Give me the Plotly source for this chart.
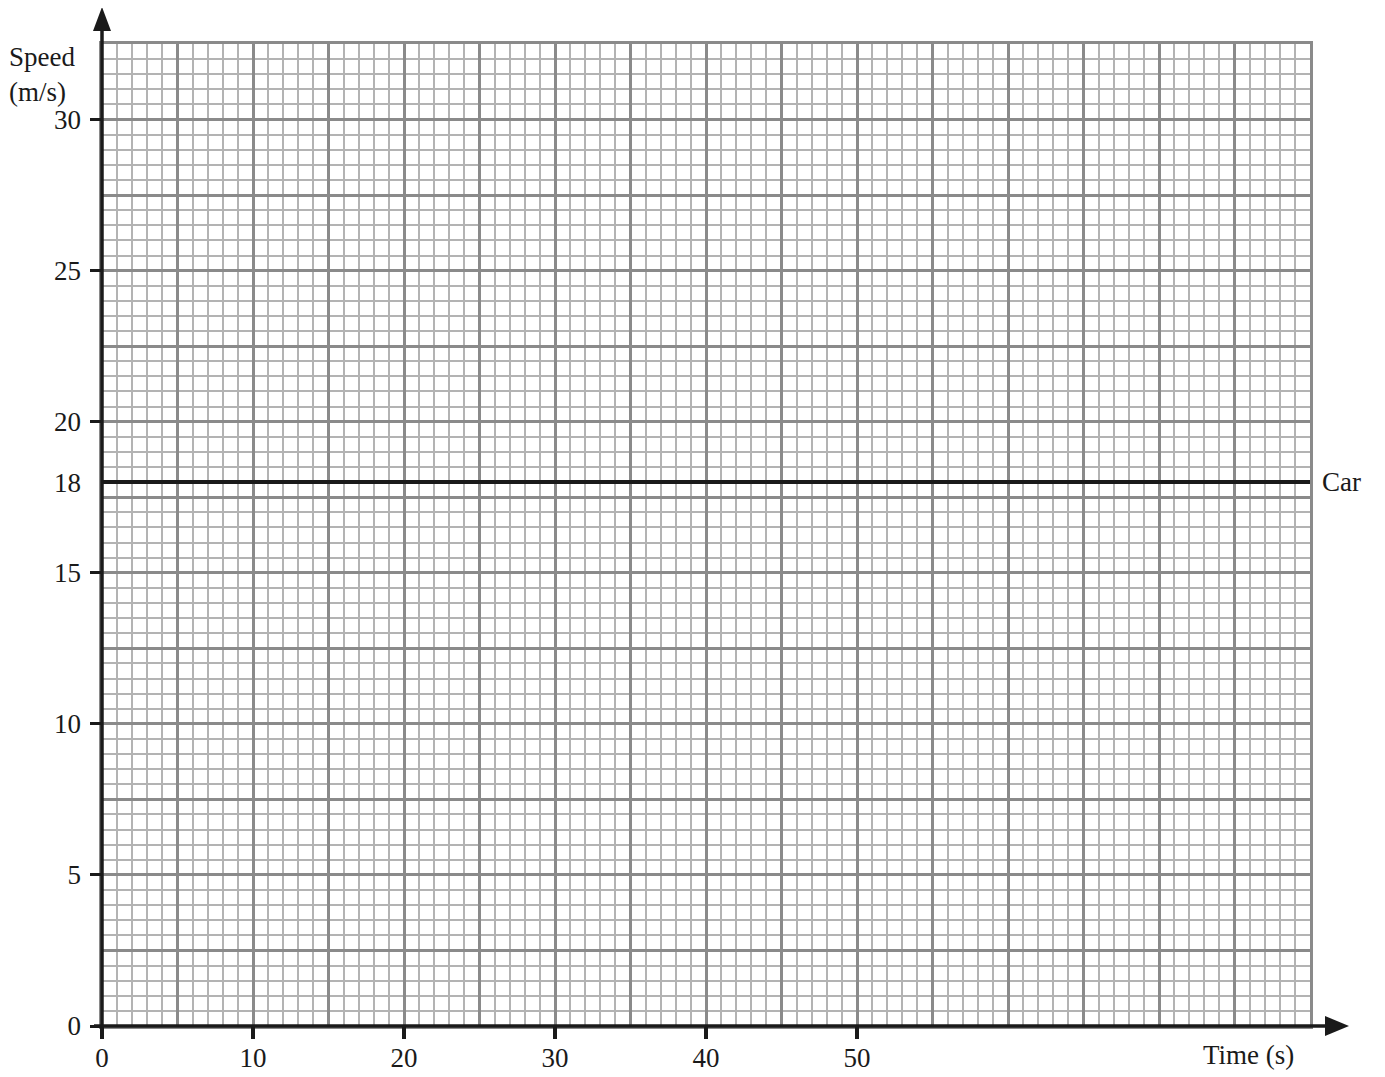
import plotly.graph_objects as go

# ---- data ----
time_range = [0, 80]
speed_range = [0, 32.5]
car_time = [0, 80]
car_speed = [18, 18]
x_tick_vals = [0, 10, 20, 30, 40, 50]
x_tick_text = ["0", "10", "20", "30", "40", "50"]
y_label_vals = [0, 5, 10, 15, 18, 20, 25, 30]
y_label_text = ["0", "5", "10", "15", "18", "20", "25", "30"]
y_tick_marks = [0, 5, 10, 15, 20, 25, 30]

# ---- layout constants (target page pixels) ----
PAGE_W, PAGE_H = 1385, 1077
OFF = 8                      # default body margin of the html page
W, H = PAGE_W - OFF, PAGE_H - OFF
PL, PR, PT, PB = 102, 1310, 44, 1026   # plot area in page pixels
L, T = PL - OFF, PT - OFF
R, B = (OFF + W) - PR, (OFF + H) - PB
PW, PH = PR - PL, PB - PT

def px_x(px):
    return (px - PL) / PW

def px_y(py):
    return (PB - py) / PH

FONT = "Times New Roman, Liberation Serif, serif"
FS = 27
INK = "#1a1a1a"
MINOR = "#b3b3b3"
MAJOR = "#8a8a8a"

fig = go.Figure()

# invisible trace so the grid axes are drawn
fig.add_trace(go.Scatter(x=time_range, y=speed_range, xaxis="x2", yaxis="y2",
                         mode="markers", marker=dict(opacity=0), hoverinfo="skip",
                         showlegend=False))

fig.add_trace(go.Scatter(x=car_time, y=car_speed, mode="lines",
                         line=dict(color=INK, width=4), showlegend=False))

fig.update_layout(
    template="none",
    width=W, height=H, autosize=False,
    margin=dict(l=L, r=R, t=T, b=B, pad=0),
    paper_bgcolor="white", plot_bgcolor="white",
    font=dict(family=FONT, size=FS, color=INK),
    xaxis=dict(range=time_range, tickvals=x_tick_vals, ticktext=x_tick_text,
               ticks="", showgrid=False, zeroline=False, showline=False, automargin=False,
               ticklabelstandoff=13,
               minor=dict(tickvals=x_tick_vals, ticks="outside", ticklen=12,
                          tickwidth=4, tickcolor=INK, showgrid=False),
               tickfont=dict(family=FONT, size=FS, color=INK)),
    yaxis=dict(range=speed_range, tickvals=y_label_vals, ticktext=y_label_text,
               ticks="", showgrid=False, zeroline=False, showline=False, automargin=False,
               ticklabelstandoff=20,
               minor=dict(tickvals=y_tick_marks, ticks="outside", ticklen=11,
                          tickwidth=3, tickcolor=INK, showgrid=False),
               tickfont=dict(family=FONT, size=FS, color=INK)),
    xaxis2=dict(range=time_range, overlaying="x", side="top", showticklabels=False,
                ticks="", tick0=0, dtick=5, showgrid=True, gridcolor=MAJOR, gridwidth=2.5,
                zeroline=False, showline=True, mirror=True, linecolor=MAJOR, linewidth=2.5,
                automargin=False,
                minor=dict(tick0=0, dtick=1, showgrid=True, gridcolor=MINOR, gridwidth=1.5)),
    yaxis2=dict(range=speed_range, overlaying="y", side="right", showticklabels=False,
                ticks="", tick0=0, dtick=2.5, showgrid=True, gridcolor=MAJOR, gridwidth=2.5,
                zeroline=False, showline=True, mirror=True, linecolor=MAJOR, linewidth=2.5,
                automargin=False,
                minor=dict(tick0=0, dtick=0.5, showgrid=True, gridcolor=MINOR, gridwidth=1.5)),
)

# axis lines with arrows
shapes = [
    dict(type="line", xref="paper", yref="paper", x0=px_x(PL), x1=px_x(PL),
         y0=px_y(PB + 2), y1=px_y(30), line=dict(color=INK, width=3.5), layer="above"),
    dict(type="path", xref="paper", yref="paper",
         path=f"M {px_x(PL-9)} {px_y(31)} L {px_x(PL)} {px_y(7)} L {px_x(PL+9)} {px_y(31)} Z",
         fillcolor=INK, line=dict(color=INK, width=0), layer="above"),
    dict(type="line", xref="paper", yref="paper", x0=px_x(PL - 8), x1=px_x(1327),
         y0=px_y(PB), y1=px_y(PB), line=dict(color=INK, width=3.5), layer="above"),
    dict(type="path", xref="paper", yref="paper",
         path=f"M {px_x(1325)} {px_y(PB-10)} L {px_x(1349)} {px_y(PB)} L {px_x(1325)} {px_y(PB+10)} Z",
         fillcolor=INK, line=dict(color=INK, width=0), layer="above"),
]
fig.update_layout(shapes=shapes)

annotations = [
    dict(text="Speed<br>(m/s)", xref="paper", yref="paper", x=px_x(7), y=px_y(40),
         xanchor="left", yanchor="top", align="left", showarrow=False,
         font=dict(family=FONT, size=FS, color=INK)),
    dict(text="Time (s)", xref="paper", yref="paper", x=px_x(1248), y=px_y(1055),
         xanchor="center", yanchor="middle", showarrow=False,
         font=dict(family=FONT, size=FS, color=INK)),
    dict(text="Car", xref="x", yref="y", x=car_time[-1], y=car_speed[-1],
         xanchor="left", yanchor="middle", xshift=10, showarrow=False,
         font=dict(family=FONT, size=FS, color=INK)),
]
fig.update_layout(annotations=annotations)

fig.write_html("out.html")
